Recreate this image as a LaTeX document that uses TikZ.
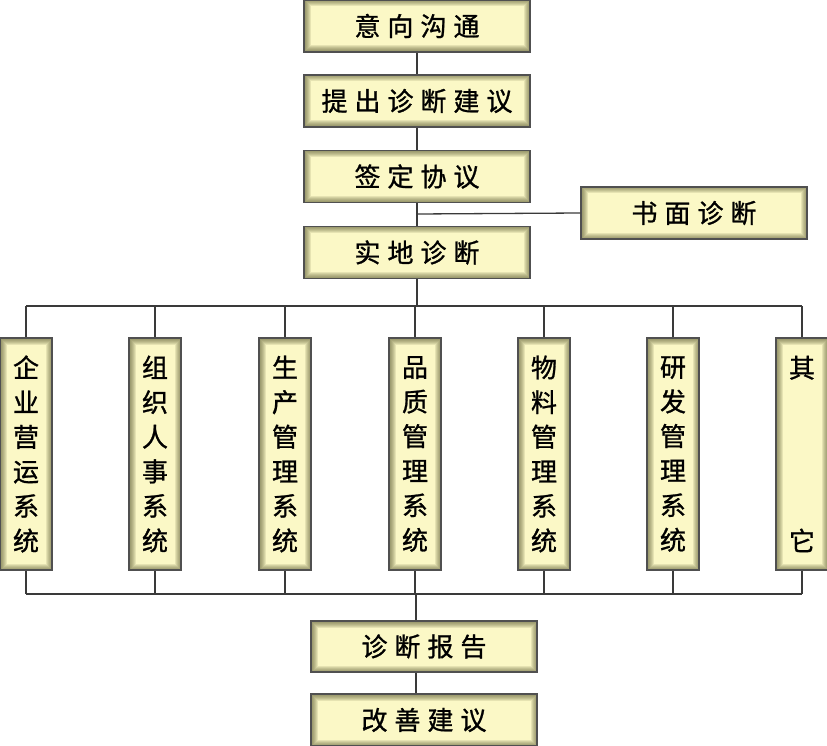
\documentclass[tikz,border=0pt]{standalone}
\usepackage{fontspec}
\newfontfamily\cjk[FakeBold=1]{Noto Sans CJK SC}
\newcommand{\gp}{\hspace{7pt}}
\definecolor{boxfill}{HTML}{FBF8C6}
\definecolor{bevcol}{HTML}{5A5A32}
\definecolor{edge}{HTML}{505050}
\definecolor{wire}{HTML}{3A3A3A}
\tikzset{
  bev/.style={draw=edge, line width=1.4pt, fill=boxfill, inner sep=0pt,
    font=\cjk\fontsize{26}{34.6}\selectfont, text=black, align=center,
    path picture={
      \foreach \w in {3,5,7,9,11,13}{
        \draw[draw=bevcol, line width=\w pt, opacity=0.13]
          (path picture bounding box.south west) rectangle (path picture bounding box.north east);
      }
    }},
  hbox/.style={bev, minimum width=226pt, minimum height=52pt},
  vbox/.style={bev, minimum width=52pt, minimum height=232pt, text width=40pt},
  wire/.style={draw=wire, line width=1.3pt}
}
\begin{document}
\begin{tikzpicture}[x=1pt,y=-1pt]
\useasboundingbox (0,0) rectangle (827,746);
% top chain
\node[hbox] (n1) at (417,26) {意\gp 向\gp 沟\gp 通};
\node[hbox] (n2) at (417,101) {提\gp 出\gp 诊\gp 断\gp 建\gp 议};
\node[hbox] (n3) at (417,176.5) {签\gp 定\gp 协\gp 议};
\node[hbox] (n4) at (417,252.5) {实\gp 地\gp 诊\gp 断};
\node[hbox] (w) at (694,213) {书\gp 面\gp 诊\gp 断};
% vertical boxes
\node[vbox] (v1) at (26,454) {企\\业\\营\\运\\系\\统};
\node[vbox] (v2) at (155,454) {组\\织\\人\\事\\系\\统};
\node[vbox] (v3) at (285,454) {生\\产\\管\\理\\系\\统};
\node[vbox] (v4) at (415,454) {品\\质\\管\\理\\系\\统};
\node[vbox] (v5) at (544,454) {物\\料\\管\\理\\系\\统};
\node[vbox] (v6) at (673,454) {研\\发\\管\\理\\系\\统};
\node[vbox] (v7) at (802,454) {其\\~\\~\\~\\~\\它};
% bottom chain
\node[hbox, minimum height=51pt] (r) at (424,646.5) {诊\gp 断\gp 报\gp 告};
\node[hbox] (g) at (424,720) {改\gp 善\gp 建\gp 议};
% junction coordinates
\coordinate (j1) at (417,214);
\coordinate (top) at (417,306);
\coordinate (bot) at (416,594);
% connectors
\draw[wire] (n1) -- (n2);
\draw[wire] (n2) -- (n3);
\draw[wire] (n3) -- (n4);
\draw[wire] (j1) -- (w.west);
\draw[wire] (n4.south) -- (top);
\draw[wire] (v1.north |- top) -- (v7.north |- top);
\foreach \v in {v1,v2,v3,v4,v5,v6,v7}{
  \draw[wire] (\v.north |- top) -- (\v.north);
  \draw[wire] (\v.south) -- (\v.south |- bot);
}
\draw[wire] (v1.south |- bot) -- (v7.south |- bot);
\draw[wire] (bot) -- (bot |- r.north);
\draw[wire] (bot |- r.south) -- (bot |- g.north);
\end{tikzpicture}
\end{document}
